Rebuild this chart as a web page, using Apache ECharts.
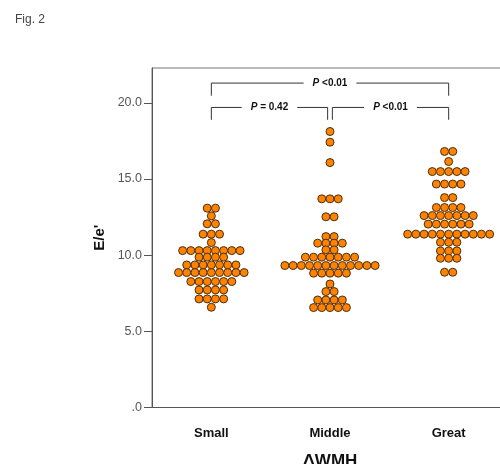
<!DOCTYPE html>
<html>
<head>
<meta charset="utf-8">
<script src="https://cdn.jsdelivr.net/npm/echarts@6/dist/echarts.min.js"></script>
<style>
html,body{margin:0;padding:0;background:#fff;}
#c{width:500px;height:464px;}
</style>
</head>
<body>
<div id="c"></div>
<script>
const categories = ['Small', 'Middle', 'Great'];
const smallValues = [
  13.09, 13.09,
  12.58,
  12.06, 12.06,
  11.38, 11.38, 11.38,
  10.83,
  10.30, 10.30, 10.30, 10.30, 10.30, 10.30, 10.30, 10.30,
  9.87, 9.87, 9.87, 9.87,
  9.36, 9.36, 9.36, 9.36, 9.36, 9.36, 9.36,
  8.86, 8.86, 8.86, 8.86, 8.86, 8.86, 8.86, 8.86, 8.86,
  8.27, 8.27, 8.27, 8.27, 8.27, 8.27,
  7.72, 7.72, 7.72, 7.72,
  7.13, 7.13, 7.13, 7.13,
  6.58
];
const middleValues = [
  18.12,
  17.42,
  16.08,
  13.70, 13.70, 13.70,
  12.52, 12.52,
  11.22, 11.22,
  10.79, 10.79, 10.79, 10.79,
  10.35, 10.35,
  9.87, 9.87, 9.87, 9.87, 9.87, 9.87, 9.87,
  9.32, 9.32, 9.32, 9.32, 9.32, 9.32, 9.32, 9.32, 9.32, 9.32, 9.32, 9.32,
  8.82, 8.82, 8.82, 8.82, 8.82,
  8.11,
  7.61, 7.61,
  7.06, 7.06, 7.06, 7.06,
  6.56, 6.56, 6.56, 6.56, 6.56
];
const greatValues = [
  16.81, 16.81,
  16.15,
  15.49, 15.49, 15.49, 15.49, 15.49,
  14.67, 14.67, 14.67, 14.67,
  13.78, 13.78,
  13.13, 13.13, 13.13, 13.13,
  12.60, 12.60, 12.60, 12.60, 12.60, 12.60, 12.60,
  12.04, 12.04, 12.04, 12.04, 12.04, 12.04,
  11.38, 11.38, 11.38, 11.38, 11.38, 11.38, 11.38, 11.38, 11.38, 11.38, 11.38,
  10.85, 10.85, 10.85,
  10.28, 10.28, 10.28,
  9.80, 9.80, 9.80,
  8.88, 8.88
];
const yTicks = [0, 5, 10, 15, 20];
const bracketLabels = ['P <0.01', 'P = 0.42', 'P <0.01'];
const bracketFrom = [0, 0, 1];
const bracketTo = [2, 1, 2];
const bracketLevel = [21.30, 19.70, 19.70];
const bracketDrop = [20.47, 18.89, 18.89];

// beeswarm layout: equal values share a row, spread symmetrically around the category centre
const DX = 0.0691;
function swarm(values, gi) {
  const rows = new Map();
  values.forEach(v => rows.set(v, (rows.get(v) || 0) + 1));
  const pts = [];
  rows.forEach((n, v) => {
    for (let i = 0; i < n; i++) pts.push([gi + 0.5 + (i - (n - 1) / 2) * DX, v]);
  });
  return pts;
}
const groups = [smallValues, middleValues, greatValues];
const points = [];
groups.forEach((g, i) => swarm(g, i).forEach(p => points.push(p)));

const bracketData = bracketLabels.map((l, i) => {
  const a = bracketFrom[i] + 0.5, b = bracketTo[i] + 0.5;
  const shrinkA = bracketFrom[i] === 1 && bracketTo[i] === 2 ? 0.02 : 0;
  const shrinkB = bracketFrom[i] === 0 && bracketTo[i] === 1 ? 0.02 : 0;
  return [a + shrinkA, b - shrinkB, bracketLevel[i], bracketDrop[i], i];
});

const chart = echarts.init(document.getElementById('c'), null, {renderer: 'canvas'});
chart.setOption({
  animation: false,
  backgroundColor: '#fff',
  title: {
    text: 'Fig. 2', left: 15, top: 14, padding: 0,
    textStyle: {fontFamily: '"Liberation Sans Narrow", "Liberation Sans", Arial', fontSize: 12, fontWeight: 'normal', color: '#444'}
  },
  grid: {left: 152, top: 68, width: 356, bottom: 56.5, show: true, borderColor: '#777', borderWidth: 1,
         backgroundColor: 'transparent', containLabel: false, outerBoundsMode: 'none'},
  xAxis: [{
    type: 'category', data: categories, boundaryGap: true,
    axisLine: {lineStyle: {color: '#555'}},
    axisTick: {alignWithLabel: true, length: 6, lineStyle: {color: '#555'}},
    axisLabel: {margin: 19, color: '#111', fontWeight: 'bold', fontSize: 13, fontFamily: 'Arial, "Liberation Sans"'},
    name: 'ΔWMH', nameLocation: 'middle', nameGap: 45,
    nameTextStyle: {fontWeight: 'bold', fontSize: 17, color: '#111', fontFamily: 'Arial, "Liberation Sans"'}
  }, {
    type: 'value', min: 0, max: 3, show: false
  }],
  yAxis: {
    type: 'value', min: 0, max: 22.29,
    axisLine: {show: true, lineStyle: {color: '#555'}},
    axisTick: {show: true, length: 8, customValues: yTicks, lineStyle: {color: '#555'}},
    axisLabel: {
      customValues: yTicks, margin: 10, color: '#555', fontSize: 12.5, fontFamily: 'Arial, "Liberation Sans"',
      formatter: v => v === 0 ? '.0' : v.toFixed(1)
    },
    splitLine: {show: false},
    name: "E/e'", nameLocation: 'middle', nameGap: 45, nameMoveOverlap: false,
    nameTextStyle: {fontWeight: 'bold', fontSize: 15, color: '#111', fontFamily: 'Arial, "Liberation Sans"'}
  },
  series: [{
    type: 'scatter', xAxisIndex: 1, yAxisIndex: 0,
    data: points, symbolSize: 8,
    itemStyle: {color: '#ff8200', borderColor: '#4a2f10', borderWidth: 1, opacity: 1}
  }, {
    type: 'custom', xAxisIndex: 1, yAxisIndex: 0,
    data: bracketData,
    renderItem: (params, api) => {
      const x1 = api.value(0), x2 = api.value(1), yl = api.value(2), yb = api.value(3);
      const lbl = bracketLabels[api.value(4)];
      const p1 = api.coord([x1, yb]), p2 = api.coord([x1, yl]), p3 = api.coord([x2, yl]), p4 = api.coord([x2, yb]);
      return {
        type: 'group',
        children: [{
          type: 'polyline',
          shape: {points: [p1, p2, p3, p4]},
          style: {stroke: '#333', lineWidth: 1, fill: null}
        }, {
          type: 'text',
          x: (p2[0] + p3[0]) / 2, y: p2[1],
          style: {
            text: '{i|' + lbl.charAt(0) + '}{b|' + lbl.slice(1) + '}',
            rich: {
              i: {fontStyle: 'italic', fontWeight: 'bold', fontSize: 10, fill: '#111', fontFamily: 'Arial, "Liberation Sans"'},
              b: {fontWeight: 'bold', fontSize: 10, fill: '#111', fontFamily: 'Arial, "Liberation Sans"'}
            },
            align: 'center', verticalAlign: 'middle',
            backgroundColor: '#fff', padding: [1, 9]
          }
        }]
      };
    }
  }]
});
</script>
</body>
</html>
